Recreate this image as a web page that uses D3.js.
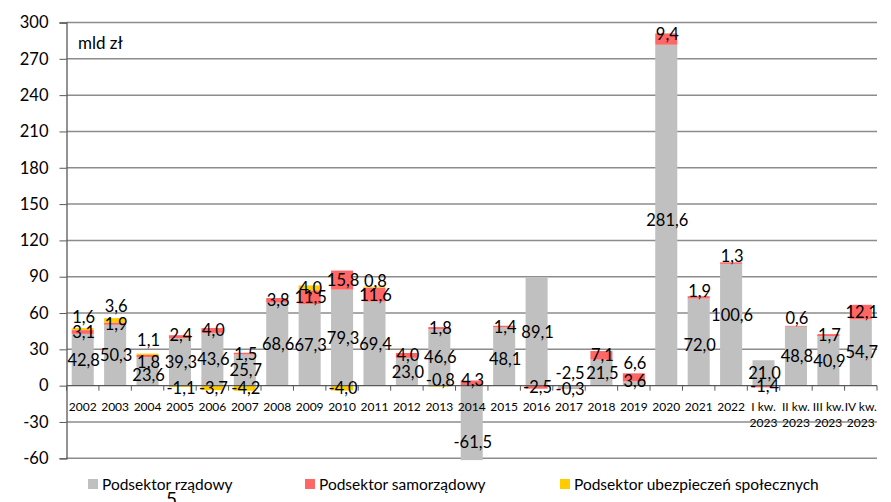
<!DOCTYPE html>
<html><head><meta charset="utf-8">
<script src="https://cdn.jsdelivr.net/npm/d3@7"></script>
<style>
html,body{margin:0;padding:0;background:#fff;}
svg{display:block;}
text{font-family:Lato,"Liberation Sans",sans-serif;fill:#000;}
</style></head>
<body>
<svg id="c" width="891" height="502"></svg>
<script>
const categories = ["2002","2003","2004","2005","2006","2007","2008","2009","2010","2011","2012","2013","2014","2015","2016","2017","2018","2019","2020","2021","2022","I kw.|2023","II kw.|2023","III kw.|2023","IV kw.|2023"];
const rzadowy      = [42.8,50.3,23.6,39.3,43.6,25.7,68.6,67.3,79.3,69.4,23.0,46.6,-61.5,48.1,89.1,-2.5,21.5,3.6,281.6,72.0,100.6,21.0,48.8,40.9,54.7];
const samorzadowy  = [3.1,1.9,1.8,2.4,4.0,1.5,3.8,11.5,15.8,11.6,4.0,1.8,4.3,1.4,-2.5,-0.3,7.1,6.6,9.4,1.9,1.3,-1.4,0.6,1.7,12.1];
const ubezpieczen  = [1.6,3.6,1.1,-1.1,-3.7,-4.2,null,4.0,-4.0,0.8,null,-0.8,null,null,null,null,null,null,null,null,null,null,null,null,null];
const seriesNames  = ["Podsektor rządowy","Podsektor samorządowy","Podsektor ubezpieczeń społecznych"];
const yTicks       = [-60,-30,0,30,60,90,120,150,180,210,240,270,300];

const colors = ["#c0c0c0","#ff6666","#ffcc00"];
// label vertical nudges (px), styling only
const nudge = {
  "2002|2":-12,"2003|2":-14,"2004|0":4,"2004|1":6,"2004|2":-14,"2005|1":-2,"2005|2":2,
  "2011|2":-6,"2013|2":-6,"2014|1":-3,"2014|0":19,"2015|0":3,"2017|0":-14,
  "2019|1":-14,"2019|0":-2,"2020|0":5,"2020|1":-5,"2021|1":-6,"2021|0":3,
  "2022|1":-7,"2022|0":-10,"II kw.|2023|1":-8
};

const svg = d3.select("#c");
const x = d3.scaleBand().domain(categories).range([66.5, 877]).paddingInner(0.32).paddingOuter(0.16);
const y = d3.scaleLinear().domain([-60, 300]).range([458.3, 22.5]);

const rows = categories.map((c,i)=>({cat:c, s0:rzadowy[i]||0, s1:samorzadowy[i]||0, s2:ubezpieczen[i]||0, raw:[rzadowy[i],samorzadowy[i],ubezpieczen[i]]}));
const stack = d3.stack().keys(["s0","s1","s2"]).offset(d3.stackOffsetDiverging);
const stacked = stack(rows);

// gridlines
svg.append("g").selectAll("line").data(yTicks.filter(t=>t!==0)).join("line")
  .attr("x1",66.5).attr("x2",877).attr("y1",d=>y(d)).attr("y2",d=>y(d))
  .attr("stroke","#8c8c8c").attr("stroke-width",1.5);

// y axis
const yAxis = svg.append("g").attr("transform","translate(66.5,0)")
  .call(d3.axisLeft(y).tickValues(yTicks).tickSize(7).tickPadding(11).tickFormat(d=>String(d)));
yAxis.select(".domain").attr("stroke","#595959").attr("stroke-width",1.3);
yAxis.selectAll(".tick line").attr("stroke","#595959");
yAxis.selectAll("text").style("font-size","16.5px").style("font-family","Lato, sans-serif").attr("fill","#000");

// bars
stacked.forEach((layer,si)=>{
  svg.append("g").selectAll("rect").data(layer).join("rect")
    .attr("x",d=>x(d.data.cat))
    .attr("width",x.bandwidth())
    .attr("y",d=>y(Math.max(d[0],d[1])))
    .attr("height",d=>Math.abs(y(d[0])-y(d[1])))
    .attr("fill",colors[si]);
});

// zero axis line
svg.append("line").attr("x1",66.5).attr("x2",877).attr("y1",y(0)).attr("y2",y(0))
  .attr("stroke","#595959").attr("stroke-width",1.3);
// x ticks at category boundaries
const step = x.step();
const bounds = d3.range(categories.length+1).map(i=>66.5+i*step);
svg.append("g").selectAll("line").data(bounds).join("line")
  .attr("x1",d=>d).attr("x2",d=>d).attr("y1",y(0)).attr("y2",y(0)+5)
  .attr("stroke","#595959").attr("stroke-width",1);

// x labels
const xl = svg.append("g").selectAll("text").data(categories).join("text")
  .attr("x",d=>x(d)+x.bandwidth()/2).attr("y",410.5)
  .attr("text-anchor","middle").style("font-size","12px");
xl.each(function(d){
  const parts=d.split("|");
  const t=d3.select(this);
  parts.forEach((p,i)=>t.append("tspan").attr("x",x(d)+x.bandwidth()/2).attr("dy",i?16:0).text(p));
});

// data labels
const fmt = v=>v.toFixed(1).replace(".",",");
stacked.forEach((layer,si)=>{
  layer.forEach((d,i)=>{
    const v=rows[i].raw[si];
    if(v===null||v===undefined) return;
    const key=rows[i].cat+"|"+si;
    const cy=y((d[0]+d[1])/2)+(nudge[key]||0);
    svg.append("text").attr("x",x(rows[i].cat)+x.bandwidth()/2+1).attr("y",cy)
      .attr("dy","0.36em").attr("text-anchor","middle")
      .style("font-size","16.5px")
      .text(fmt(v));
  });
});

// unit
svg.append("text").attr("x",78).attr("y",49).style("font-size","17px").text("mld zł");

// legend
const lx=[88,305,560];
seriesNames.forEach((n,i)=>{
  svg.append("rect").attr("x",lx[i]).attr("y",479).attr("width",10).attr("height",10).attr("fill",colors[i]);
  svg.append("text").attr("x",lx[i]+14).attr("y",490).style("font-size","15.5px").text(n);
});
svg.append("text").attr("x",166).attr("y",506).style("font-size","19px").text("5");
</script>
</body></html>
